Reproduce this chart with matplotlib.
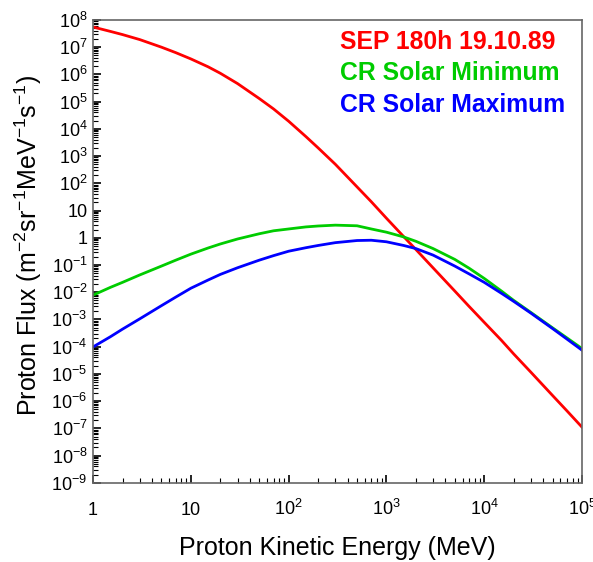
import numpy as np
import matplotlib.pyplot as plt
from matplotlib.ticker import FixedLocator, LogLocator, NullFormatter

plt.rcParams['font.family'] = ['Liberation Sans', 'DejaVu Sans']
plt.rcParams['mathtext.fontset'] = 'custom'
plt.rcParams['mathtext.rm'] = 'Liberation Sans'
plt.rcParams['mathtext.it'] = 'Liberation Sans'

# Proton kinetic energy (MeV)
energy = [1, 1.5, 2, 3, 5, 7, 10, 15, 20, 30, 50, 70, 100, 150, 200, 300,
          500, 700, 1000, 1500, 2000, 3000, 5000, 7000, 1e4, 1.5e4, 2e4,
          3e4, 5e4, 7e4, 1e5]

# flux values
sep_flux = [5.5e7, 3.8e7, 2.9e7, 1.9e7, 1.0e7, 6.3e6, 3.7e6, 1.9e6, 1.1e6,
            4.6e5, 1.3e5, 5.4e4, 1.9e4, 5.2e3, 2.0e3, 500, 74, 21, 5.2, 1.1,
            0.37, 0.078, 0.011, 3.0e-3, 7.8e-4, 1.7e-4, 5.4e-5, 1.15e-5,
            1.6e-6, 4.4e-7, 1.1e-7]
cr_min_flux = [7.8e-3, 0.015, 0.023, 0.043, 0.091, 0.15, 0.25, 0.42, 0.59,
               0.90, 1.4, 1.8, 2.1, 2.5, 2.7, 2.9, 2.75, 2.1, 1.6, 1.07,
               0.74, 0.40, 0.16, 0.076, 0.032, 0.011, 5.0e-3, 1.8e-3,
               4.9e-4, 2.1e-4, 8.5e-5]
cr_max_flux = [9.8e-5, 2.3e-4, 4.4e-4, 1.05e-3, 3.2e-3, 6.6e-3, 0.014, 0.028,
               0.045, 0.079, 0.15, 0.22, 0.32, 0.43, 0.52, 0.66, 0.79, 0.81,
               0.71, 0.52, 0.40, 0.23, 0.091, 0.047, 0.023, 9.1e-3, 4.6e-3,
               1.7e-3, 4.6e-4, 1.9e-4, 7.4e-5]

labels = ['SEP 180h 19.10.89', 'CR Solar Minimum', 'CR Solar Maximum']
colors = ['#ff0000', '#00cc00', '#0000ff']

x_ticks = [1, 10, 1e2, 1e3, 1e4, 1e5]
x_ticklabels = ['1', '10', '$10^{2}$', '$10^{3}$', '$10^{4}$', '$10^{5}$']
y_ticks = [10.0 ** k for k in range(-9, 9)]
y_ticklabels = ['$10^{%d}$' % k if k not in (0, 1) else ('1' if k == 0 else '10')
                for k in range(-9, 9)]

fig = plt.figure(figsize=(5.93, 5.62), dpi=100)
ax = fig.add_axes([0.157, 0.141, 0.8245, 0.8235])

for flux, c in zip([sep_flux, cr_min_flux, cr_max_flux], colors):
    ax.plot(energy, flux, color=c, lw=2.0)

ax.set_xscale('log')
ax.set_yscale('log')
ax.set_xlim(1, 1e5)
ax.set_ylim(1e-9, 1e8)

ax.xaxis.set_major_locator(FixedLocator(x_ticks))
ax.set_xticklabels(x_ticklabels)
ax.yaxis.set_major_locator(FixedLocator(y_ticks))
ax.set_yticklabels(y_ticklabels)
ax.xaxis.set_minor_locator(LogLocator(base=10, subs=np.arange(2, 10), numticks=20))
ax.yaxis.set_minor_locator(LogLocator(base=10, subs=np.arange(2, 10), numticks=40))
ax.xaxis.set_minor_formatter(NullFormatter())
ax.yaxis.set_minor_formatter(NullFormatter())

ax.tick_params(which='both', direction='in', top=False, right=False,
               labelsize=13, color='black')
ax.tick_params(which='major', length=6, width=1.2)
ax.tick_params(which='minor', length=3.5, width=0.8)
ax.tick_params(axis='x', pad=23)
ax.tick_params(axis='y', pad=4)
# put all x labels on one baseline
for t in ax.get_xticklabels():
    t.set_verticalalignment('baseline')

for s in ax.spines.values():
    s.set_color('#666666')
    s.set_linewidth(1.2)

ax.set_xlabel('Proton Kinetic Energy (MeV)', fontsize=18)
ax.xaxis.set_label_coords(0.5, -0.115)
ax.set_ylabel('Proton Flux (m$^{-2}$sr$^{-1}$MeV$^{-1}$s$^{-1}$)',
              fontsize=18)
ax.yaxis.set_label_coords(-0.1, 0.513)

for i, (lab, c) in enumerate(zip(labels, colors)):
    ax.text(0.505, 0.9525 - i * 0.068, lab, color=c, fontsize=17.8,
            fontweight='bold', transform=ax.transAxes, va='center', ha='left')

fig.savefig('out.png', dpi=100)
